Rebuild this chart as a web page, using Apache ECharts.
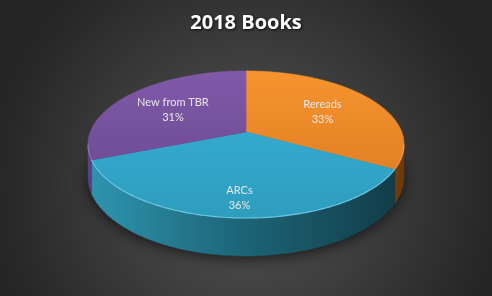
<!DOCTYPE html>
<html><head><meta charset="utf-8">
<script src="https://cdn.jsdelivr.net/npm/echarts@6/dist/echarts.min.js"></script>
<style>html,body{margin:0;padding:0;background:#333}#c{width:492px;height:296px}</style>
</head><body><div id="c"></div>
<script>
const title = '2018 Books';
const categories = ['Rereads', 'ARCs', 'New from TBR'];
const values = [33, 36, 31];

const topColors = [['#F7942F', '#D8781F'], ['#38B2D9', '#2E9DBE'], ['#8059A9', '#66468A']];
const wallColors = [['#A0581A', '#6E3A0C'], ['#2F95B1', '#1C6476', '#123A46'], ['#5E3F82', '#3E2A58']];
const rimColors = ['rgba(255,190,120,0.5)', 'rgba(130,215,240,0.75)', 'rgba(180,150,220,0.5)'];

const chart = echarts.init(document.getElementById('c'));
const total = values.reduce((a, b) => a + b, 0);
const starts = []; let acc = 0; values.forEach(v => { starts.push(acc); acc += v; });

// projection of the tilted disc (slight perspective)
const CX = 246, AY = 132, D = 155.7, A = 71.4, C = -0.17, H = 31.5;
function proj(t, f, drop) {
  const u = Math.sin(t) * f, v = -Math.cos(t) * f;
  const den = 1 + C * v;
  return [CX + D * u / den, AY + (A * v + drop) / den];
}
function arc(a0, a1, drop) {
  const n = Math.max(6, Math.ceil((a1 - a0) / 0.02));
  const pts = [];
  for (let k = 0; k <= n; k++) pts.push(proj(a0 + (a1 - a0) * k / n, 1, drop));
  return pts;
}
const LG = echarts.graphic.LinearGradient;
const silA = Math.acos(C); // silhouette angle (from top, clockwise)

function renderItem(params, api) {
  const i = params.dataIndex;
  const val = api.value(0);
  const a0 = starts[i] / total * 2 * Math.PI, a1 = (starts[i] + val) / total * 2 * Math.PI;
  const children = [];
  if (i === 0) {
    const sh = arc(0, 2 * Math.PI, H);
    children.push({ type: 'polygon', z2: -10, shape: { points: sh },
      style: { fill: 'rgba(20,20,20,0.9)', shadowBlur: 14, shadowColor: 'rgba(0,0,0,0.7)', shadowOffsetY: 3 } });
  }
  // visible outer wall (front part)
  const w0 = Math.max(a0, silA), w1 = Math.min(a1, 2 * Math.PI - silA);
  if (w1 > w0) {
    const top = arc(w0, w1, 0), bot = arc(w0, w1, H).reverse();
    const wc = wallColors[i];
    const stops = wc.map((c, k) => ({ offset: k / (wc.length - 1), color: c }));
    const g = new LG(CX - 160, 0, CX + 160, 0, stops, true);
    children.push({ type: 'polygon', z2: 0, shape: { points: top.concat(bot) },
      style: { fill: g, stroke: g, lineWidth: 0.5 } });
  }
  // top face
  const tg = new LG(0, AY - 61, 0, AY + 86, [{ offset: 0, color: topColors[i][0] }, { offset: 1, color: topColors[i][1] }], true);
  children.push({ type: 'polygon', z2: 10, shape: { points: [[CX, AY]].concat(arc(a0, a1, 0)) },
    style: { fill: tg, stroke: tg, lineWidth: 0.6 } });
  if (w1 > w0) {
    children.push({ type: 'polyline', z2: 11, shape: { points: arc(w0, w1, 0) },
      style: { fill: null, stroke: rimColors[i], lineWidth: 1.2 } });
  }
  // label
  const mid = (a0 + a1) / 2;
  const u = Math.sin(mid), v = -Math.cos(mid);
  const fx = 0.6, fy = 0.66 + 0.14 * v;
  const lx = CX + D * u * fx / (1 + C * v * fx);
  const ly = AY + A * v * fy / (1 + C * v * fy);
  children.push({ type: 'text', z2: 20,
    style: { text: categories[i] + '\n' + Math.round(val / total * 100) + '%', x: lx, y: ly,
      align: 'center', verticalAlign: 'middle', fill: '#E8E8E8', fontFamily: 'Lato', fontSize: 11, lineHeight: 15 } });
  return { type: 'group', children };
}

chart.setOption({
  animation: false,
  backgroundColor: new echarts.graphic.RadialGradient(0.5, 0.62, 0.85,
    [{ offset: 0, color: '#565656' }, { offset: 1, color: '#262626' }]),
  title: { text: title, left: 'center', top: 8,
    textStyle: { color: '#FFFFFF', fontFamily: 'Open Sans', fontWeight: 'bold', fontSize: 20,
      textShadowColor: 'rgba(0,0,0,0.8)', textShadowBlur: 3, textShadowOffsetX: 1, textShadowOffsetY: 1 } },
  series: [{ type: 'custom', coordinateSystem: 'none', renderItem,
    data: values.map((v, i) => ({ name: categories[i], value: [v] })) }]
});
</script></body></html>
